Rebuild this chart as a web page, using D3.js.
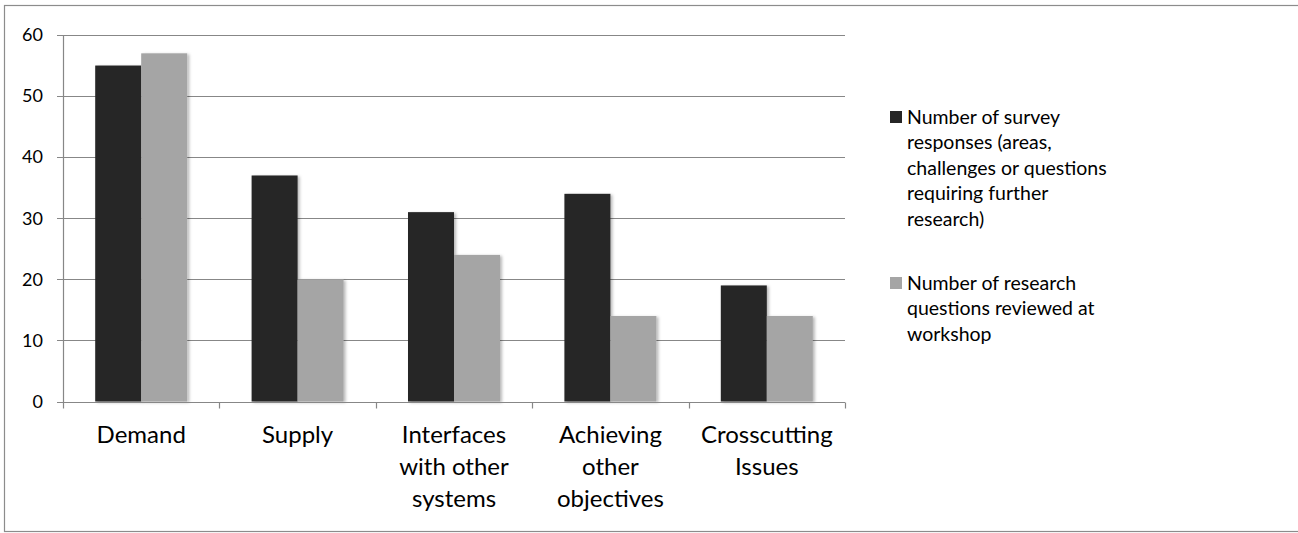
<!DOCTYPE html>
<html>
<head>
<meta charset="utf-8">
<script src="https://cdn.jsdelivr.net/npm/d3@7"></script>
<style>
  html, body { margin: 0; padding: 0; background: #fff; overflow: hidden; }
  svg { display: block; font-family: Lato, "Open Sans", sans-serif; }
</style>
</head>
<body>
<svg id="chart" width="1298" height="533"></svg>
<script>
// Research areas and their counts
const categories = ["Demand", "Supply", "Interfaces with other systems", "Achieving other objectives", "Crosscutting Issues"];
const categoryLines = [["Demand"], ["Supply"], ["Interfaces", "with other", "systems"], ["Achieving", "other", "objectives"], ["Crosscutting", "Issues"]];
const seriesNames = ["Survey responses", "Research questions"];
const surveyResponses = [55, 37, 31, 34, 19];
const researchQuestions = [57, 20, 24, 14, 14];
const yTicks = [0, 10, 20, 30, 40, 50, 60];
const legendLines = [
  ["Number of survey", "responses (areas,", "challenges or questions", "requiring further", "research)"],
  ["Number of research", "questions reviewed at", "workshop"]
];
const colors = ["#262626", "#a5a5a5"];

const svg = d3.select("#chart");
const gridColor = "#878787";

// Outer frame (right edge runs past the visible area)
svg.append("rect")
  .attr("x", 4.5).attr("y", 5.5)
  .attr("width", 1320).attr("height", 526)
  .attr("fill", "none").attr("stroke", "#8c8c8c").attr("stroke-width", 1.2);

const plot = { left: 63, right: 845, top: 35, bottom: 401.5 };

const x0 = d3.scaleBand().domain(categories).range([plot.left, plot.right]).padding(0);
const x1 = d3.scaleBand().domain(seriesNames).range([0, x0.bandwidth()]).paddingInner(0).paddingOuter(0.7);
const y = d3.scaleLinear().domain([0, 60]).range([plot.bottom, plot.top]);

// Drop shadow for bars
const defs = svg.append("defs");
const f = defs.append("filter").attr("id", "shadow").attr("x", "-10%").attr("y", "-10%").attr("width", "130%").attr("height", "120%");
f.append("feDropShadow").attr("dx", 2).attr("dy", 1).attr("stdDeviation", 1.5).attr("flood-color", "#000").attr("flood-opacity", 0.28);

// Horizontal gridlines with left ticks
svg.append("g").selectAll("line").data(yTicks).join("line")
  .attr("x1", plot.left - 6).attr("x2", plot.right)
  .attr("y1", d => Math.round(y(d)) + 0.5).attr("y2", d => Math.round(y(d)) + 0.5)
  .attr("stroke", gridColor).attr("stroke-width", 1);

// Y tick labels
svg.append("g").selectAll("text").data(yTicks).join("text")
  .attr("x", 43).attr("y", d => y(d)).attr("dy", "0.35em")
  .attr("text-anchor", "end").attr("font-size", 18).attr("fill", "#000")
  .text(d => d);

// Y axis line
svg.append("line")
  .attr("x1", plot.left + 0.5).attr("x2", plot.left + 0.5)
  .attr("y1", plot.top).attr("y2", plot.bottom + 0.5)
  .attr("stroke", gridColor).attr("stroke-width", 1.2);

// Bars
const groups = svg.append("g").selectAll("g").data(categories).join("g")
  .attr("transform", d => `translate(${x0(d)},0)`);

groups.selectAll("rect")
  .data((d, i) => [
    { s: seriesNames[0], v: surveyResponses[i] },
    { s: seriesNames[1], v: researchQuestions[i] }
  ])
  .join("rect")
  .attr("x", d => x1(d.s))
  .attr("y", d => y(d.v))
  .attr("width", x1.bandwidth())
  .attr("height", d => y(0) - y(d.v))
  .attr("fill", (d, j) => colors[j])
  .attr("filter", "url(#shadow)");

// X axis line and category boundary ticks
const xAxisY = Math.round(plot.bottom) + 0.5;
svg.append("line")
  .attr("x1", plot.left).attr("x2", plot.right)
  .attr("y1", xAxisY).attr("y2", xAxisY)
  .attr("stroke", gridColor).attr("stroke-width", 1.2);
const boundaries = categories.map(c => x0(c)).concat([plot.right]);
svg.append("g").selectAll("line").data(boundaries).join("line")
  .attr("x1", d => Math.round(d) + 0.5).attr("x2", d => Math.round(d) + 0.5)
  .attr("y1", xAxisY).attr("y2", xAxisY + 6)
  .attr("stroke", gridColor).attr("stroke-width", 1.2);

// Category labels
const catLabels = svg.append("g").selectAll("text").data(categories).join("text")
  .attr("text-anchor", "middle").attr("font-size", 24).attr("fill", "#000");
catLabels.each(function (d, i) {
  const t = d3.select(this);
  const cx = x0(d) + x0.bandwidth() / 2;
  categoryLines[i].forEach((line, k) => {
    t.append("tspan").attr("x", cx).attr("y", 443 + k * 32).text(line);
  });
});

// Legend
const legend = svg.append("g");
const legendStarts = [123.5, 289.5];
const lineH = 25.5;
legendLines.forEach((lines, i) => {
  const base = legendStarts[i];
  legend.append("rect")
    .attr("x", 890).attr("y", base - 12.5)
    .attr("width", 12).attr("height", 12)
    .attr("fill", colors[i]);
  const t = legend.append("text").attr("font-size", 19.5).attr("fill", "#000");
  lines.forEach((line, k) => {
    t.append("tspan").attr("x", 907).attr("y", base + k * lineH).text(line);
  });
});
</script>
</body>
</html>
